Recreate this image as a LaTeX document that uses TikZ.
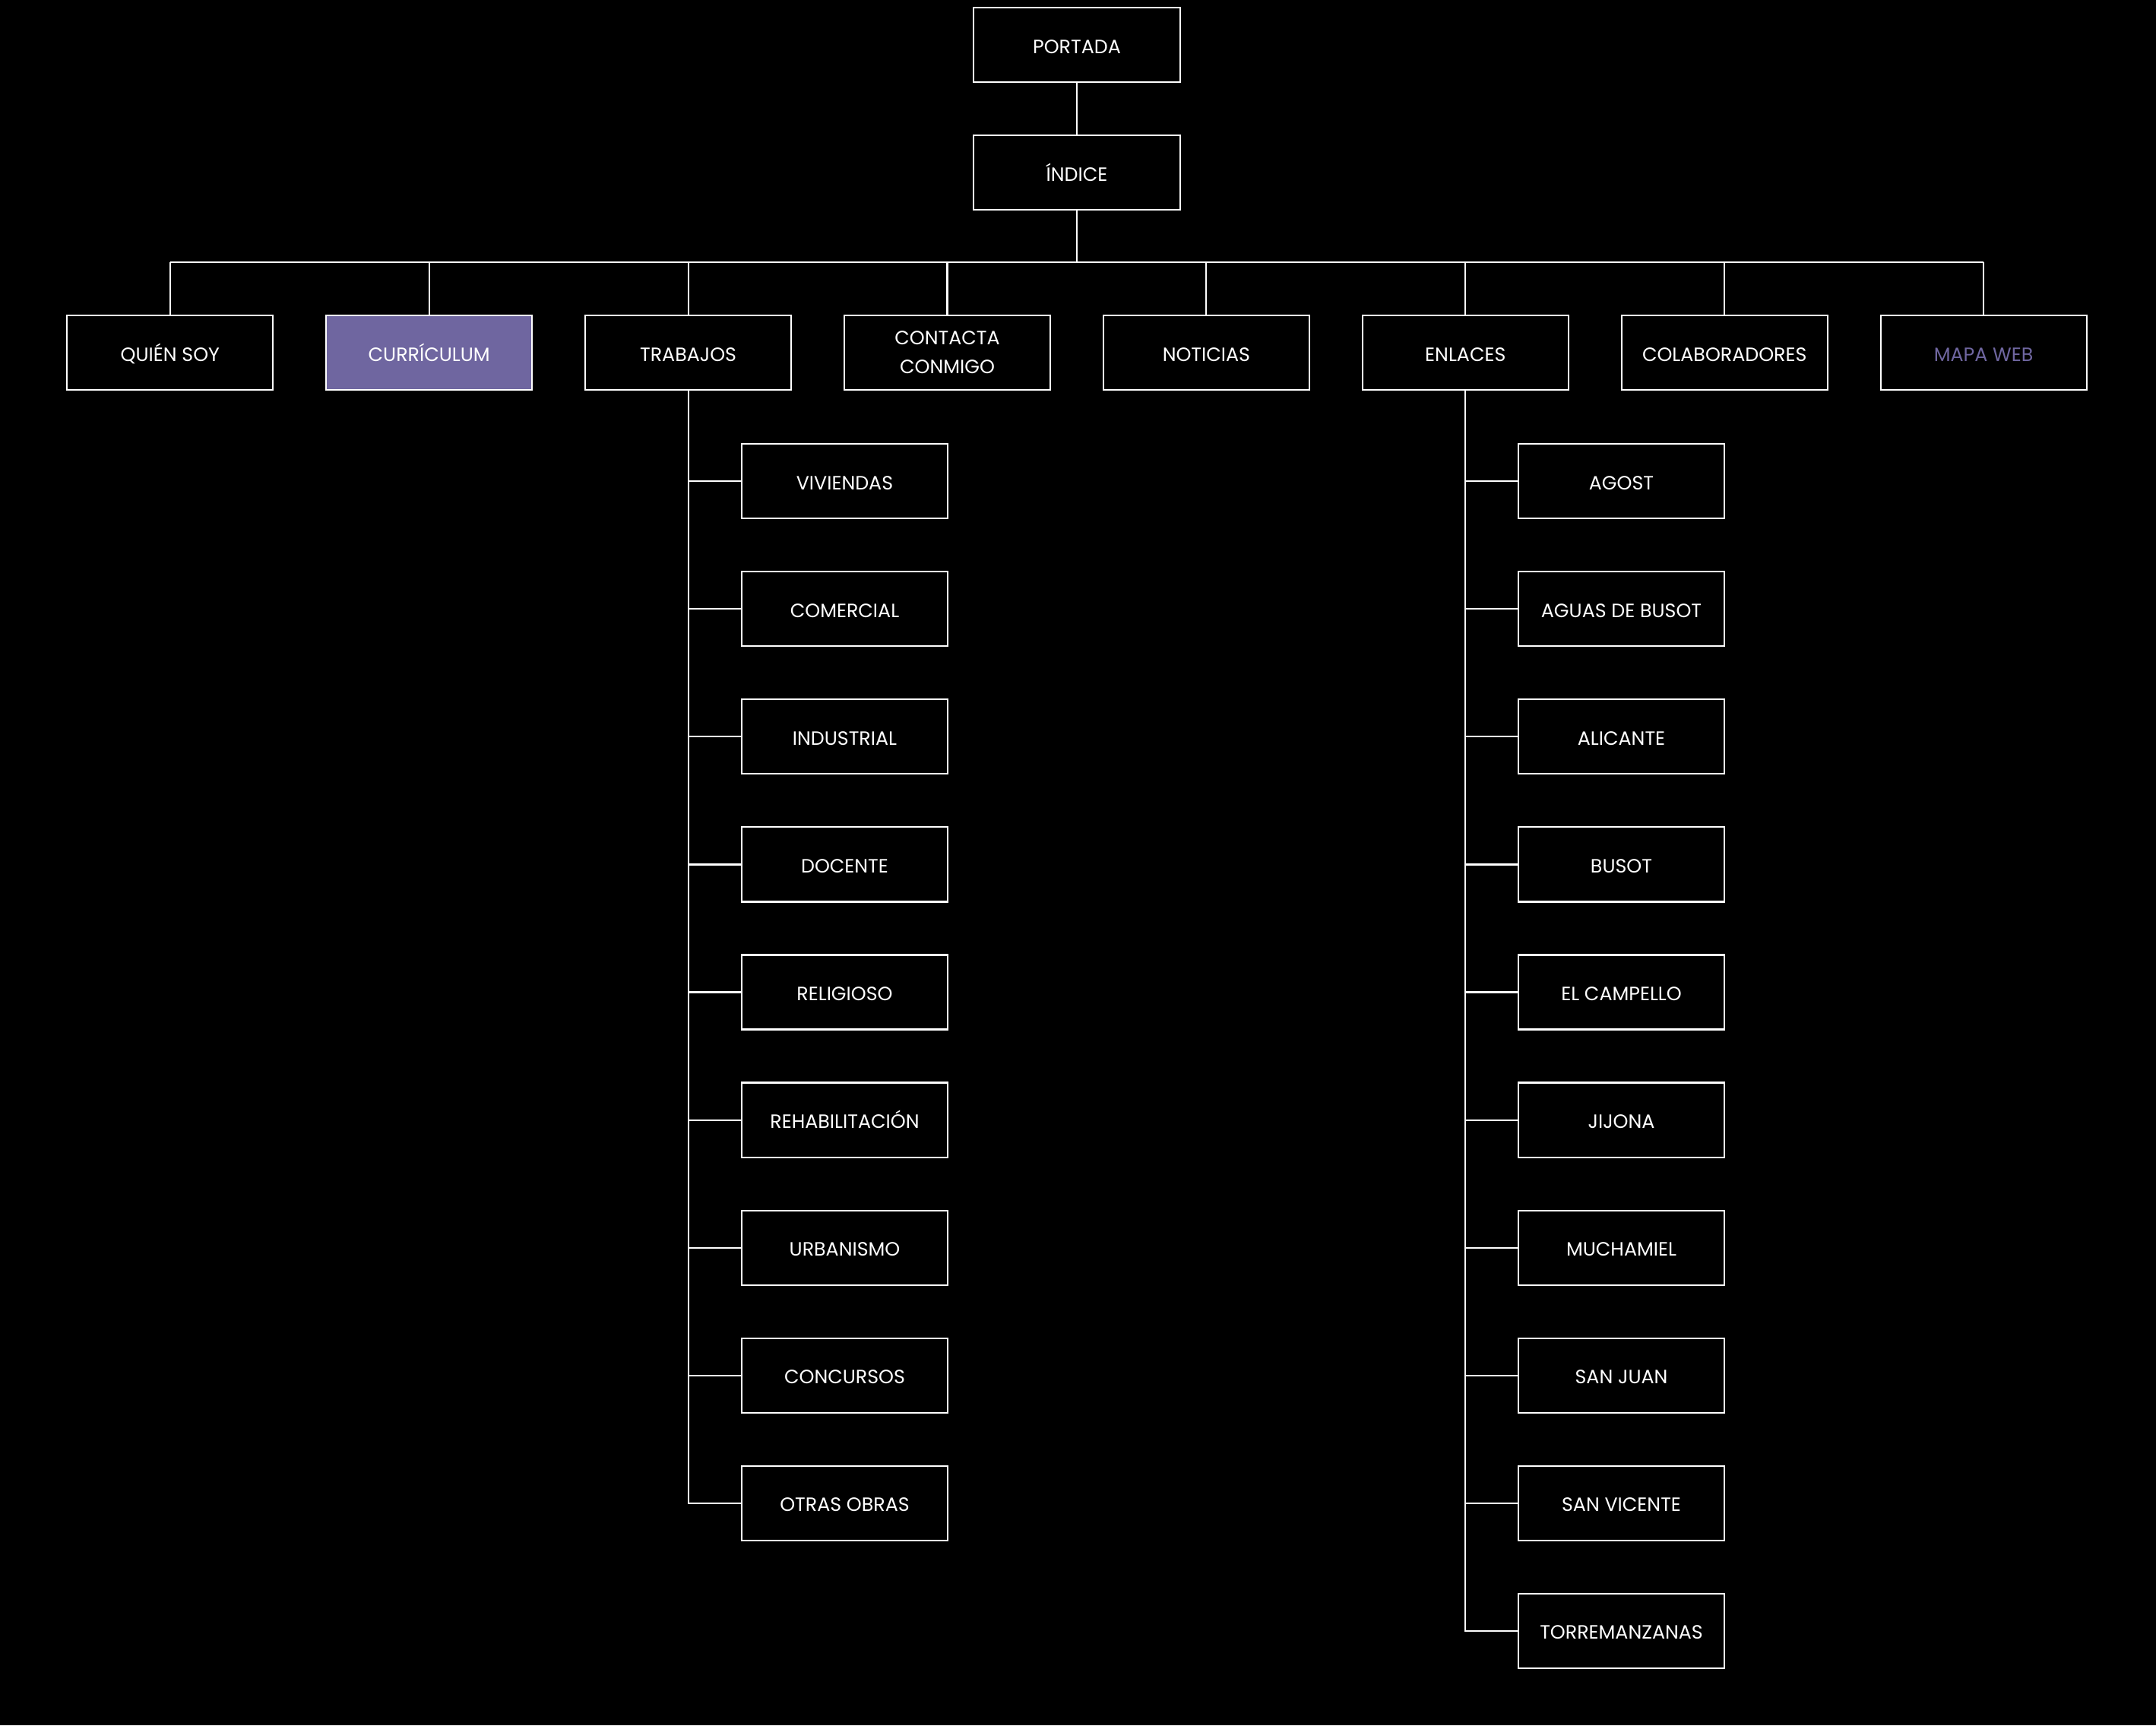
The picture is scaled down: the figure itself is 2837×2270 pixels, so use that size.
\documentclass[tikz,border=0pt]{standalone}
\usepackage{fontspec}
\setmainfont{Poppins}
\definecolor{lila}{RGB}{111,102,160}
\tikzset{
  box/.style={draw=white, line width=0.6pt, minimum width=2.71cm, minimum height=0.98cm,
    inner sep=0pt, text=white, font=\fontsize{7.2}{10.8}\selectfont, align=center, fill=black,
    text height=1.4ex, text depth=0.25ex},
  twoline/.style={text height={}, text depth={}},
  conn/.style={draw=white, line width=0.6pt},
}
\begin{document}
\begin{tikzpicture}[x=0.01cm,y=-0.01cm]
\path[fill=black, use as bounding box] (0,0) rectangle (2837,2270);
% top
\node[box] (portada) at (1417,59) {PORTADA};
\node[box] (indice) at (1417,227) {ÍNDICE};
\coordinate (bus) at (1417,345);
% level 2
\node[box] (quien) at (223.8,464) {QUIÉN SOY};
\node[box, fill=lila] (curr) at (564.7,464) {CURRÍCULUM};
\node[box] (trab) at (905.6,464) {TRABAJOS};
\node[box, twoline] (cont) at (1246.5,464) {CONTACTA\\CONMIGO};
\node[box] (noti) at (1587.4,464) {NOTICIAS};
\node[box] (enl) at (1928.3,464) {ENLACES};
\node[box] (cola) at (2269.2,464) {COLABORADORES};
\node[box, text=lila] (mapa) at (2610.1,464) {MAPA WEB};
% trabajos children
\foreach \n/\t [count=\i from 0] in {t1/VIVIENDAS, t2/COMERCIAL, t3/INDUSTRIAL, t4/DOCENTE, t5/RELIGIOSO, t6/REHABILITACIÓN, t7/URBANISMO, t8/CONCURSOS, t9/OTRAS OBRAS}{
  \node[box] (\n) at (1111.5,{633.3+168.05*\i}) {\t};
}
% enlaces children
\foreach \n/\t [count=\i from 0] in {e1/AGOST, e2/AGUAS DE BUSOT, e3/ALICANTE, e4/BUSOT, e5/EL CAMPELLO, e6/JIJONA, e7/MUCHAMIEL, e8/SAN JUAN, e9/SAN VICENTE, e10/TORREMANZANAS}{
  \node[box] (\n) at (2133.5,{633.3+168.05*\i}) {\t};
}
% connectors
\draw[conn] (portada) -- (indice);
\draw[conn] (indice.south) -- (indice.south |- bus);
\draw[conn] (quien.north |- bus) -- (mapa.north |- bus);
\foreach \n in {quien,curr,trab,cont,noti,enl,cola,mapa}{
  \draw[conn] (\n.north) -- (\n.north |- bus);
}
\foreach \n in {t1,t2,t3,t4,t5,t6,t7,t8,t9}{
  \draw[conn] (trab.south) |- (\n.west);
}
\foreach \n in {e1,e2,e3,e4,e5,e6,e7,e8,e9,e10}{
  \draw[conn] (enl.south) |- (\n.west);
}
\end{tikzpicture}
\end{document}
